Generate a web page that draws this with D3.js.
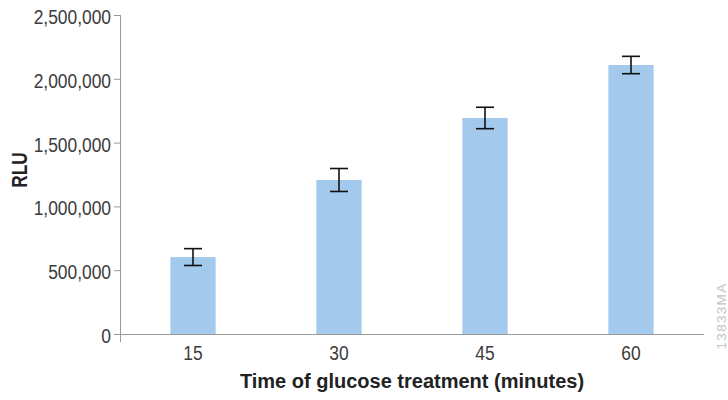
<!DOCTYPE html>
<html>
<head>
<meta charset="utf-8">
<script src="https://cdn.jsdelivr.net/npm/d3@7"></script>
<style>
  html, body { margin: 0; padding: 0; background: #fff; }
  svg { display: block; }
  .tick text { font-family: "Liberation Sans", Arial, sans-serif; fill: #3c3c3c; }
  .title { font-family: "Liberation Sans", Arial, sans-serif; font-weight: bold; fill: #222; }
</style>
</head>
<body>
<svg id="chart" width="728" height="400"></svg>
<script>
// Luminescence after glucose treatment, mean ± error per time point
const times = ["15", "30", "45", "60"];
const rlu = [603000, 1207000, 1693000, 2108000];
const rluErr = [66000, 90000, 84000, 68000];
const yTicks = [0, 500000, 1000000, 1500000, 2000000, 2500000];

const svg = d3.select("#chart");
const plotLeft = 120, plotRight = 704, plotTop = 15, plotBottom = 334;
const narrow = 0.87; // horizontal squeeze giving a condensed look to labels

const x = d3.scaleBand().domain(times).range([plotLeft, plotRight])
  .paddingInner(0.69).paddingOuter(0.345);
const y = d3.scaleLinear().domain([0, 2500000]).range([plotBottom, plotTop]);

// bars
svg.append("g").selectAll("rect").data(times).join("rect")
  .attr("x", d => x(d))
  .attr("width", x.bandwidth())
  .attr("y", (d, i) => y(rlu[i]))
  .attr("height", (d, i) => y(0) - y(rlu[i]))
  .attr("fill", "#a3c9ec");

// error bars
const eb = svg.append("g").attr("stroke", "#111").attr("stroke-width", 1.6);
times.forEach((t, i) => {
  const cx = x(t) + x.bandwidth() / 2;
  const y1 = y(rlu[i] + rluErr[i]), y2 = y(rlu[i] - rluErr[i]);
  eb.append("line").attr("x1", cx).attr("x2", cx).attr("y1", y1).attr("y2", y2);
  eb.append("line").attr("x1", cx - 9).attr("x2", cx + 9).attr("y1", y1).attr("y2", y1);
  eb.append("line").attr("x1", cx - 9).attr("x2", cx + 9).attr("y1", y2).attr("y2", y2);
});

// y axis
const yAxis = svg.append("g").attr("transform", `translate(${plotLeft},0)`)
  .call(d3.axisLeft(y).tickValues(yTicks).tickFormat(d3.format(",")).tickSize(6).tickPadding(3))
  .call(g => g.select(".domain").remove());
yAxis.selectAll(".tick line").attr("stroke", "#999");
yAxis.selectAll(".tick text")
  .attr("font-size", 20).attr("dy", "0.42em")
  .attr("x", -9 / narrow).attr("transform", `scale(${narrow},1)`);
yAxis.append("line").attr("x1", 0.5).attr("x2", 0.5).attr("y1", plotTop).attr("y2", plotBottom + 8)
  .attr("stroke", "#999");

// x axis
const xAxis = svg.append("g").attr("transform", `translate(0,${plotBottom})`)
  .call(d3.axisBottom(x).tickSize(0).tickPadding(12))
  .call(g => g.select(".domain").remove());
xAxis.selectAll(".tick text").attr("font-size", 20).attr("transform", `scale(${narrow},1)`);
xAxis.append("line").attr("x1", plotLeft).attr("x2", plotRight).attr("y1", 0.5).attr("y2", 0.5)
  .attr("stroke", "#999");

// axis titles
svg.append("text").attr("class", "title")
  .attr("x", (plotLeft + plotRight) / 2).attr("y", 388)
  .attr("text-anchor", "middle").attr("font-size", 20)
  .text("Time of glucose treatment (minutes)");
svg.append("text").attr("class", "title")
  .attr("transform", "translate(27,170) rotate(-90) scale(0.8,1)")
  .attr("text-anchor", "middle").attr("font-size", 21.5)
  .text("RLU");

// figure code
svg.append("text")
  .attr("transform", "translate(726,316) rotate(-90)")
  .attr("text-anchor", "middle")
  .attr("font-family", "'Liberation Sans', Arial, sans-serif")
  .attr("font-size", 13.5).attr("letter-spacing", 1.3).attr("fill", "#c4c4c4")
  .text("13833MA");
</script>
</body>
</html>
